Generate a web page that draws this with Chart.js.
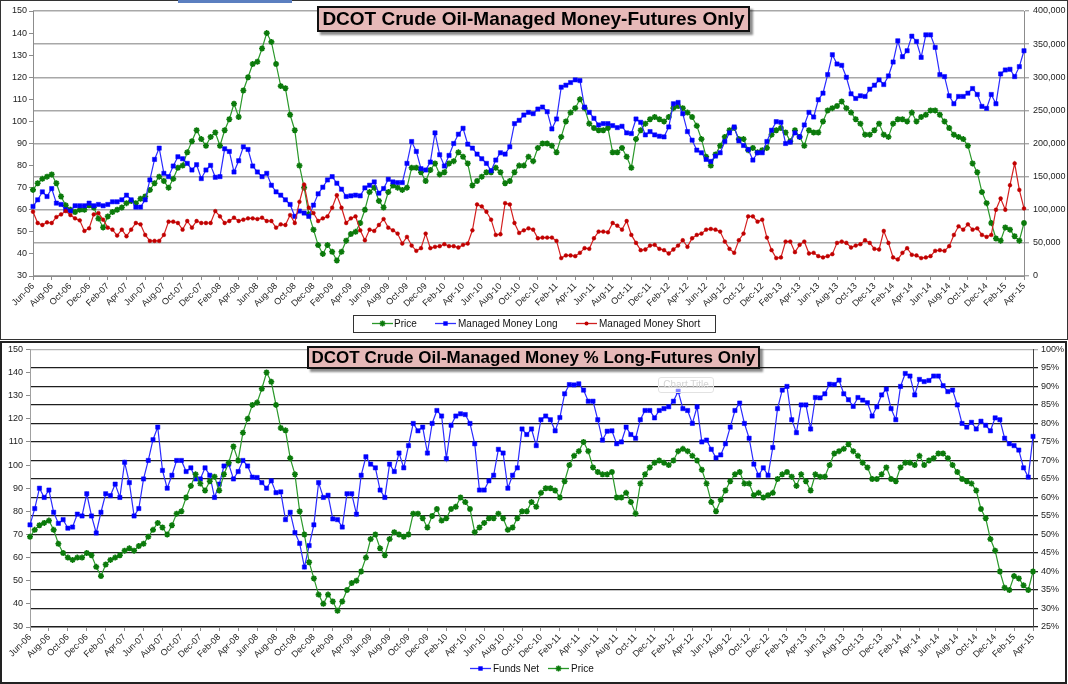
<!DOCTYPE html>
<html><head><meta charset="utf-8">
<script src="https://cdn.jsdelivr.net/npm/chart.js@4.4.0/dist/chart.umd.min.js"></script>
<style>
html,body{margin:0;padding:0;background:#fff;}
body{width:1068px;height:684px;position:relative;overflow:hidden;font-family:'Liberation Sans',Arial,sans-serif;}
canvas{position:absolute;left:0;}
#cTop{top:0;}
#cBot{top:341px;}
.frame{position:absolute;box-sizing:border-box;pointer-events:none;}
.title{position:absolute;box-sizing:border-box;background:#e6b9b8;border:2px solid #111;box-shadow:3px 3px 2px rgba(0,0,0,0.45);font-weight:bold;color:#000;text-align:center;white-space:nowrap;}
.lg{position:absolute;font-size:10px;color:#111;white-space:nowrap;line-height:12px;}
.lgbox{position:absolute;box-sizing:border-box;border:1px solid #333;}
svg{position:absolute;overflow:visible;}
</style></head><body>
<canvas id="cTop" width="1068" height="339"></canvas>
<canvas id="cBot" width="1068" height="343"></canvas>

<div class="frame" style="left:0;top:0;width:1068px;height:340px;border:1.5px solid #333;"></div>
<div class="frame" style="left:0;top:341px;width:1067px;height:343px;border:2px solid #222;"></div>
<div style="position:absolute;left:178px;top:0;width:114px;height:3px;background:#5b7fc0;"></div>

<div class="title" style="left:317px;top:6px;width:433px;height:26px;font-size:19px;line-height:22px;">DCOT Crude Oil-Managed Money-Futures Only</div>
<div class="title" style="left:307px;top:346px;width:453px;height:23px;font-size:17px;line-height:19px;">DCOT Crude Oil-Managed Money % Long-Futures Only</div>
<div style="position:absolute;left:658px;top:377px;width:54px;height:14px;border:1px solid #e2e2e2;border-radius:3px;color:#d4d4d4;font-size:10px;line-height:14px;text-align:center;background:rgba(255,255,255,0.5);">Chart Title</div>

<div class="lgbox" style="left:353px;top:315px;width:363px;height:18px;"></div>
<svg style="left:372px;top:319px;" width="21" height="9"><line x1="0" y1="4.5" x2="21" y2="4.5" stroke="#2a982a" stroke-width="1.3"/><g stroke="#0b7a0b" stroke-width="1.5"><line x1="7.5" y1="4.5" x2="13.5" y2="4.5"/><line x1="10.5" y1="1.5" x2="10.5" y2="7.5"/><line x1="8.4" y1="2.4" x2="12.6" y2="6.6"/><line x1="12.6" y1="2.4" x2="8.4" y2="6.6"/></g></svg>
<div class="lg" style="left:394px;top:318px;">Price</div>
<svg style="left:435px;top:319px;" width="21" height="9"><line x1="0" y1="4.5" x2="21" y2="4.5" stroke="#3030ff" stroke-width="1.3"/><rect x="8.3" y="2.3" width="4.4" height="4.4" fill="#0000ff"/></svg>
<div class="lg" style="left:458px;top:318px;">Managed Money Long</div>
<svg style="left:576px;top:319px;" width="21" height="9"><line x1="0" y1="4.5" x2="21" y2="4.5" stroke="#d02020" stroke-width="1.3"/><circle cx="10.5" cy="4.5" r="2" fill="#c00000"/></svg>
<div class="lg" style="left:599px;top:318px;">Managed Money Short</div>

<svg style="left:470px;top:664px;" width="21" height="9"><line x1="0" y1="4.5" x2="21" y2="4.5" stroke="#3030ff" stroke-width="1.3"/><rect x="8.3" y="2.3" width="4.4" height="4.4" fill="#0000ff"/></svg>
<div class="lg" style="left:493px;top:663px;">Funds Net</div>
<svg style="left:548px;top:664px;" width="21" height="9"><line x1="0" y1="4.5" x2="21" y2="4.5" stroke="#2a982a" stroke-width="1.3"/><g stroke="#0b7a0b" stroke-width="1.5"><line x1="7.5" y1="4.5" x2="13.5" y2="4.5"/><line x1="10.5" y1="1.5" x2="10.5" y2="7.5"/><line x1="8.4" y1="2.4" x2="12.6" y2="6.6"/><line x1="12.6" y1="2.4" x2="8.4" y2="6.6"/></g></svg>
<div class="lg" style="left:571px;top:663px;">Price</div>

<script>
// ---- tick labels (every two months, Jun-06 .. Apr-15) ----
const tickLabels = ['Jun-06','Aug-06','Oct-06','Dec-06','Feb-07','Apr-07','Jun-07','Aug-07','Oct-07','Dec-07',
 'Feb-08','Apr-08','Jun-08','Aug-08','Oct-08','Dec-08','Feb-09','Apr-09','Jun-09','Aug-09',
 'Oct-09','Dec-09','Feb-10','Apr-10','Jun-10','Aug-10','Oct-10','Dec-10','Feb-11','Apr-11',
 'Jun-11','Aug-11','Oct-11','Dec-11','Feb-12','Apr-12','Jun-12','Aug-12','Oct-12','Dec-12',
 'Feb-13','Apr-13','Jun-13','Aug-13','Oct-13','Dec-13','Feb-14','Apr-14','Jun-14','Aug-14',
 'Oct-14','Dec-14','Feb-15','Apr-15'];

// ---- series, one value every half month from Jun-06 ----
const price = [
 69,72,74,75,76,72,66,62,60,59,
 60,60,62,61,56,52,57,59,60,61,
 63,64,63,65,66,69,72,75,73,70,
 74,79,80,86,91,96,92,89,93,95,
 89,96,101,108,102,114,120,126,127,133,
 140,136,126,116,115,103,96,80,70,58,
 51,44,40,44,41,37,41,46,49,50,
 54,60,68,70,64,61,68,71,70,69,
 70,79,79,77,73,78,81,76,77,81,
 82,86,84,81,71,73,75,77,77,79,
 77,72,73,77,80,80,84,82,88,90,
 90,89,86,93,100,104,106,110,106,99,
 97,96,96,97,86,86,88,84,79,92,
 96,99,101,102,101,100,102,106,107,106,
 104,102,98,92,84,80,85,89,93,96,
 97,92,92,87,88,86,87,88,94,96,
 97,95,91,96,93,89,96,95,95,100,
 105,106,107,109,106,104,101,99,94,94,
 96,99,94,93,99,101,101,100,104,100,
 102,103,105,105,103,100,97,94,93,92,
 89,81,77,68,63,54,47,46,52,51,
 48,46,54];

// Managed Money Long, thousands of contracts
const mmLongK = [
 105,115,127,120,132,110,108,100,98,106,
 106,106,110,106,108,106,108,112,112,115,
 122,115,104,104,115,145,176,193,155,150,
 166,180,177,170,160,168,147,160,167,149,
 150,192,188,157,174,195,191,166,157,150,
 155,137,127,122,115,108,90,98,95,90,
 107,124,134,145,150,140,131,120,121,122,
 121,133,137,142,125,132,146,142,141,141,
 170,203,188,162,160,172,216,183,166,182,
 200,214,223,199,193,184,177,170,159,175,
 186,184,195,230,235,243,247,245,252,255,
 248,222,237,285,288,292,296,295,255,247,
 238,228,230,230,227,224,226,216,215,237,
 232,213,218,213,211,210,225,260,262,245,
 218,205,190,186,176,173,181,186,203,216,
 225,204,197,191,175,186,186,203,220,233,
 232,200,202,216,210,228,247,240,266,276,
 304,334,320,318,300,275,268,272,271,282,
 288,296,289,302,323,355,331,340,362,354,
 330,364,364,345,304,301,272,260,271,271,
 276,283,274,256,253,274,260,305,311,312,
 301,316,340];

// Managed Money Short, thousands of contracts
const mmShortK = [
 97,80,77,81,80,89,93,98,92,87,
 84,68,72,93,95,85,73,70,61,70,
 60,70,80,78,62,53,53,53,62,82,
 82,80,70,83,73,83,80,80,80,98,
 90,80,83,88,83,85,87,87,86,88,
 83,83,73,78,77,92,80,112,138,103,
 95,83,87,90,103,122,103,80,87,90,
 69,54,70,68,77,86,73,69,64,49,
 59,46,38,42,64,42,44,45,48,45,
 45,43,47,49,69,108,105,97,85,62,
 63,110,108,80,65,69,72,70,57,58,
 58,58,53,27,31,31,30,35,42,41,
 57,67,67,66,80,76,70,83,62,50,
 39,40,46,47,41,39,34,40,46,54,
 44,57,62,64,70,71,70,67,52,41,
 35,54,64,90,90,82,85,58,39,27,
 28,52,52,36,47,52,34,35,30,28,
 30,33,50,52,50,43,46,48,54,50,
 41,40,68,50,28,25,35,42,32,31,
 27,28,30,38,39,38,45,62,75,70,
 78,70,72,62,59,62,100,117,100,137,
 170,130,102];

// Managed Money % long (Funds Net), percent
const fundsNet = [
 52.6,57,62.5,60,62,56,53,54,51.7,52,
 55.5,55,61,55,50.4,56,61,60.5,63.6,60,
 69.5,64,55,57,65,70,75.6,79,67.3,62.5,
 66,70,70,67,68,65,65,68,66,60,
 63.6,68.5,69,65,67,70,68.5,65.5,65.4,64,
 62.5,64.5,61.3,61.5,54,56,50.5,47.6,41.2,47,
 52.6,64,60,60.6,54.2,54,52,61,61,55.5,
 66,71,69,68,62,60,69,67,72,68,
 74,80,78,79,72,80,83.5,82,70.5,79.5,
 82,82.6,82.4,80,74.5,62,62,64.5,66,73,
 72,62.5,66,68,78.5,77,78.5,74,81,82,
 81,78,81.6,88,90.5,90.4,90.7,89,86,86,
 81,75.5,77.9,78,74.5,75,79,77,76,81,
 83.5,83.5,81.5,83.5,84,84.5,86,88.7,84,83.5,
 80,84.5,75,75.5,73,70.7,71.5,74.5,79,83.5,
 85.5,80,76,69,66,68,66,73.5,84,89,
 90,81,77.5,85,85,78.5,87,86.9,88,90.6,
 90.5,91.7,88,86.4,84.6,87,86.3,85.6,82,84.5,
 87.7,89.3,84,81,90,93.5,92.8,87.7,91.9,91.3,
 91.6,92.8,92.8,90.2,88.6,89,85,80,79,80.3,
 78.5,80.6,79.5,78,81.5,81,76,74.5,74,72.8,
 68,65.5,76.5];

const STEP = 0.5; // months between points
const pts = (arr, mul) => arr.map((v, i) => ({ x: i * STEP, y: v * (mul || 1) }));

const FONT = "'Liberation Sans', Arial, sans-serif";
const GREEN_LINE = '#2a982a', GREEN_PT = '#0b7a0b';
const BLUE = '#0000ff', BLUE_LINE = '#2a2aff';
const RED = '#c00000', RED_LINE = '#d42020';

function xAxis(height) {
  return {
    type: 'linear', min: 0, max: 106,
    afterBuildTicks: s => { s.ticks = tickLabels.map((_, i) => ({ value: i * 2 })); },
    afterFit: s => { s.height = height; },
    ticks: { autoSkip: false, minRotation: 45, maxRotation: 45, padding: 1,
      callback: (v, i) => tickLabels[i], font: { size: 9, family: FONT }, color: '#222' },
    grid: { drawOnChartArea: false, drawTicks: true, tickLength: 4, color: '#8c8c8c' },
    border: { display: true, color: '#8c8c8c', width: 1 }
  };
}

const priceDs = (order) => ({
  label: 'Price', data: pts(price), yAxisID: 'y', order: order,
  borderColor: GREEN_LINE, borderWidth: 1.2, backgroundColor: GREEN_PT,
  pointStyle: 'star', pointRadius: 3, pointBorderWidth: 1.6, pointBorderColor: GREEN_PT,
  tension: 0, clip: false
});

Chart.defaults.animation = false;

new Chart(document.getElementById('cTop'), {
  type: 'line',
  data: { datasets: [
    priceDs(3),
    { label: 'Managed Money Long', data: pts(mmLongK, 1000), yAxisID: 'y1', order: 2,
      borderColor: BLUE_LINE, borderWidth: 1.2, backgroundColor: BLUE, pointBackgroundColor: BLUE,
      pointStyle: 'rect', pointRadius: 3, pointBorderWidth: 0.5, pointBorderColor: BLUE, tension: 0, clip: false },
    { label: 'Managed Money Short', data: pts(mmShortK, 1000), yAxisID: 'y1', order: 1,
      borderColor: RED_LINE, borderWidth: 1.2, backgroundColor: RED, pointBackgroundColor: RED,
      pointStyle: 'circle', pointRadius: 1.9, pointBorderWidth: 0.5, pointBorderColor: RED, tension: 0, clip: false }
  ]},
  options: {
    responsive: false, animation: false, events: [],
    layout: { padding: { top: 11, left: 0, right: 0, bottom: 0 } },
    plugins: { legend: { display: false }, tooltip: { enabled: false } },
    scales: {
      x: xAxis(63),
      y: { position: 'left', min: 30, max: 150,
        afterFit: s => { s.width = 33; },
        ticks: { stepSize: 10, padding: 2, font: { size: 9, family: FONT }, color: '#222' },
        grid: { drawOnChartArea: false, tickLength: 4, color: '#8c8c8c' },
        border: { color: '#8c8c8c' } },
      y1: { position: 'right', min: 0, max: 400000,
        afterFit: s => { s.width = 44; },
        ticks: { stepSize: 50000, padding: 4, font: { size: 9, family: FONT }, color: '#222',
          callback: v => v.toLocaleString('en-US') },
        grid: { drawOnChartArea: true, color: '#a8a8a8', lineWidth: 1.4, tickLength: 5 },
        border: { color: '#8c8c8c' } }
    }
  }
});

new Chart(document.getElementById('cBot'), {
  type: 'line',
  data: { datasets: [
    { label: 'Funds Net', data: pts(fundsNet), yAxisID: 'y1', order: 2,
      borderColor: BLUE_LINE, borderWidth: 1.2, backgroundColor: BLUE, pointBackgroundColor: BLUE,
      pointStyle: 'rect', pointRadius: 3, pointBorderWidth: 0.5, pointBorderColor: BLUE, tension: 0, clip: false },
    priceDs(1)
  ]},
  options: {
    responsive: false, animation: false, events: [],
    layout: { padding: { top: 7, left: 0, right: 0, bottom: 0 } },
    plugins: { legend: { display: false }, tooltip: { enabled: false } },
    scales: {
      x: xAxis(57),
      y: { position: 'left', min: 30, max: 150,
        afterFit: s => { s.width = 30; },
        ticks: { stepSize: 10, padding: 3, font: { size: 9, family: FONT }, color: '#222' },
        grid: { drawOnChartArea: false, tickLength: 4, color: '#8c8c8c' },
        border: { color: '#a0a0a0' } },
      y1: { position: 'right', min: 25, max: 100,
        afterFit: s => { s.width = 35; },
        ticks: { stepSize: 5, padding: 3, font: { size: 9, family: FONT }, color: '#222',
          callback: v => v + '%' },
        grid: { drawOnChartArea: true, lineWidth: 1.3, tickLength: 5,
          color: c => (c.tick && c.tick.value === 100) ? '#b4b4b4' : '#1e1e1e' },
        border: { color: '#444' } }
    }
  }
});
</script>
</body></html>
